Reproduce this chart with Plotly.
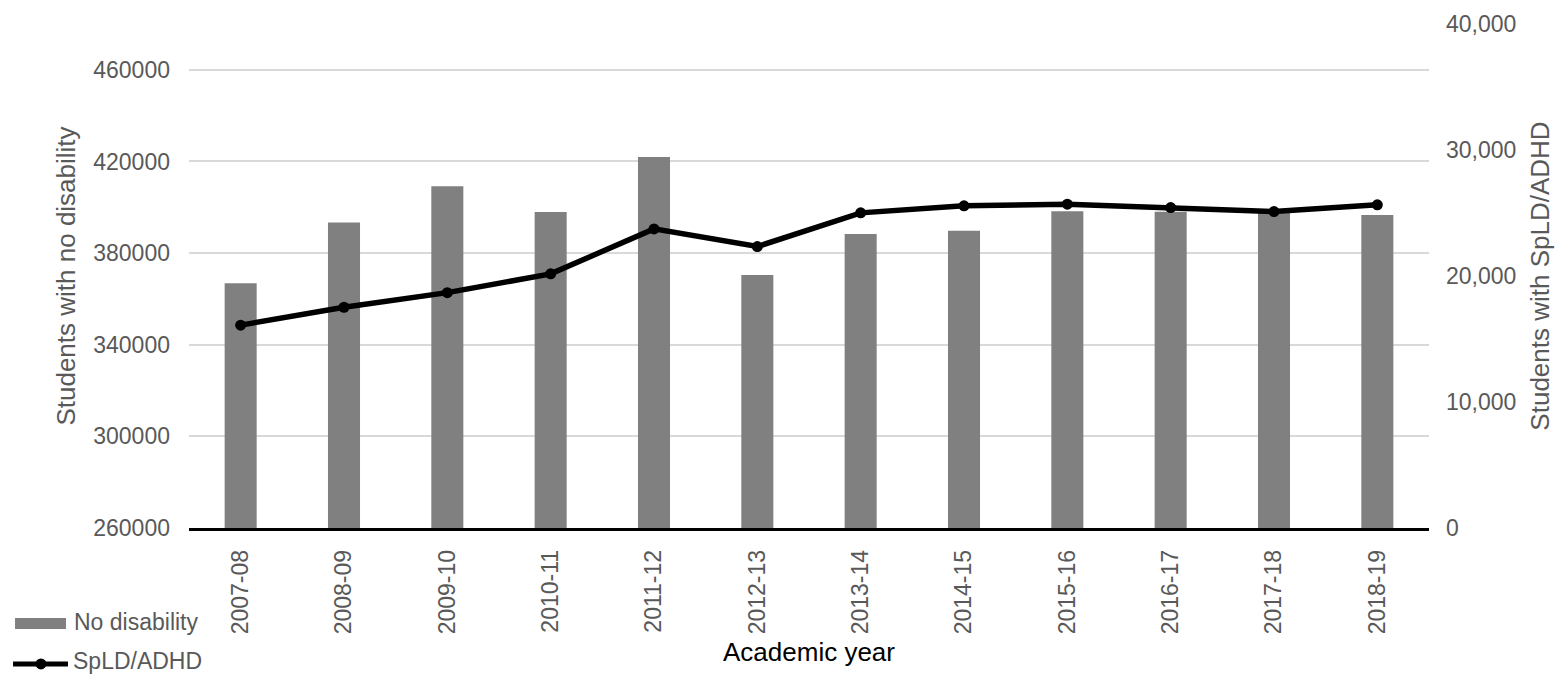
import plotly.graph_objects as go

# Academic years and student counts
years = ["2007-08", "2008-09", "2009-10", "2010-11", "2011-12", "2012-13",
         "2013-14", "2014-15", "2015-16", "2016-17", "2017-18", "2018-19"]
no_disability = [366800, 393400, 409200, 397900, 421900, 370400,
                 388300, 389800, 398300, 398000, 397700, 396600]
spld_adhd = [16100, 17520, 18680, 20170, 23740, 22340,
             25010, 25570, 25700, 25430, 25110, 25650]

left_ticks = [260000, 300000, 340000, 380000, 420000, 460000]
right_ticks = [0, 10000, 20000, 30000, 40000]
right_labels = ["0", "10,000", "20,000", "30,000", "40,000"]

FONT = "Liberation Sans, Arial, Helvetica, sans-serif"
GREY_TEXT = "#595959"
BAR_GREY = "#808080"

fig = go.Figure()
fig.add_trace(go.Bar(
    x=years, y=no_disability, name="No disability",
    marker=dict(color=BAR_GREY, line=dict(width=0)),
    yaxis="y",
))
fig.add_trace(go.Scatter(
    x=years, y=spld_adhd, name="SpLD/ADHD",
    mode="lines+markers",
    line=dict(color="#000000", width=5.5),
    marker=dict(color="#000000", size=11),
    yaxis="y2",
))

# Legend drawn in the bottom-left corner (paper coordinates)
legend_shapes = [
    dict(type="rect", xref="paper", yref="paper",
         x0=-0.1403, x1=-0.0992, y0=-0.2004, y1=-0.1786,
         fillcolor=BAR_GREY, line=dict(width=0)),
    dict(type="line", xref="paper", yref="paper",
         x0=-0.1419, x1=-0.0976, y0=-0.2698, y1=-0.2698,
         line=dict(color="#000000", width=5)),
    dict(type="circle", xref="paper", yref="paper",
         x0=-0.1194 - 0.0044, x1=-0.1194 + 0.0044,
         y0=-0.2698 - 0.0109, y1=-0.2698 + 0.0109,
         fillcolor="#000000", line=dict(width=0)),
]
legend_labels = [
    dict(text="No disability", xref="paper", yref="paper",
         x=-0.0944, y=-0.1865, xanchor="left", yanchor="middle",
         showarrow=False, font=dict(family=FONT, size=23, color=GREY_TEXT)),
    dict(text="SpLD/ADHD", xref="paper", yref="paper",
         x=-0.0952, y=-0.2639, xanchor="left", yanchor="middle",
         showarrow=False, font=dict(family=FONT, size=23, color=GREY_TEXT)),
]

fig.update_layout(
    width=1555, height=676,
    margin=dict(l=189, r=126, t=24, b=148),
    paper_bgcolor="white", plot_bgcolor="white",
    font=dict(family=FONT, size=23, color=GREY_TEXT),
    bargap=0.69,
    showlegend=False,
    shapes=legend_shapes,
    annotations=legend_labels,
    xaxis=dict(
        type="category",
        range=[-0.5, len(years) - 0.5],
        automargin=False,
        tickangle=-90,
        tickfont=dict(family=FONT, size=23, color=GREY_TEXT),
        showline=True, linecolor="#000000", linewidth=2.5,
        showgrid=False, ticks="", ticklabelstandoff=10,
        title=dict(text="Academic year",
                   font=dict(family=FONT, size=26, color="#000000"),
                   standoff=10),
    ),
    yaxis=dict(
        range=[260000, 480000],
        automargin=False,
        tickvals=left_ticks,
        ticktext=[str(v) for v in left_ticks],
        tickfont=dict(family=FONT, size=23, color=GREY_TEXT),
        showgrid=True, gridcolor="#d9d9d9", gridwidth=2,
        zeroline=False, showline=False, ticks="",
        ticklabelstandoff=18,
        title=dict(text="Students with no disability",
                   font=dict(family=FONT, size=26, color=GREY_TEXT),
                   standoff=10),
    ),
    yaxis2=dict(
        overlaying="y", side="right",
        range=[0, 40000],
        automargin=False,
        tickvals=right_ticks, ticktext=right_labels,
        tickfont=dict(family=FONT, size=23, color=GREY_TEXT),
        showgrid=False, zeroline=False, showline=False, ticks="",
        ticklabelstandoff=16,
        title=dict(text="Students with SpLD/ADHD",
                   font=dict(family=FONT, size=26, color=GREY_TEXT),
                   standoff=15),
    ),
)

fig.write_html("out.html")
